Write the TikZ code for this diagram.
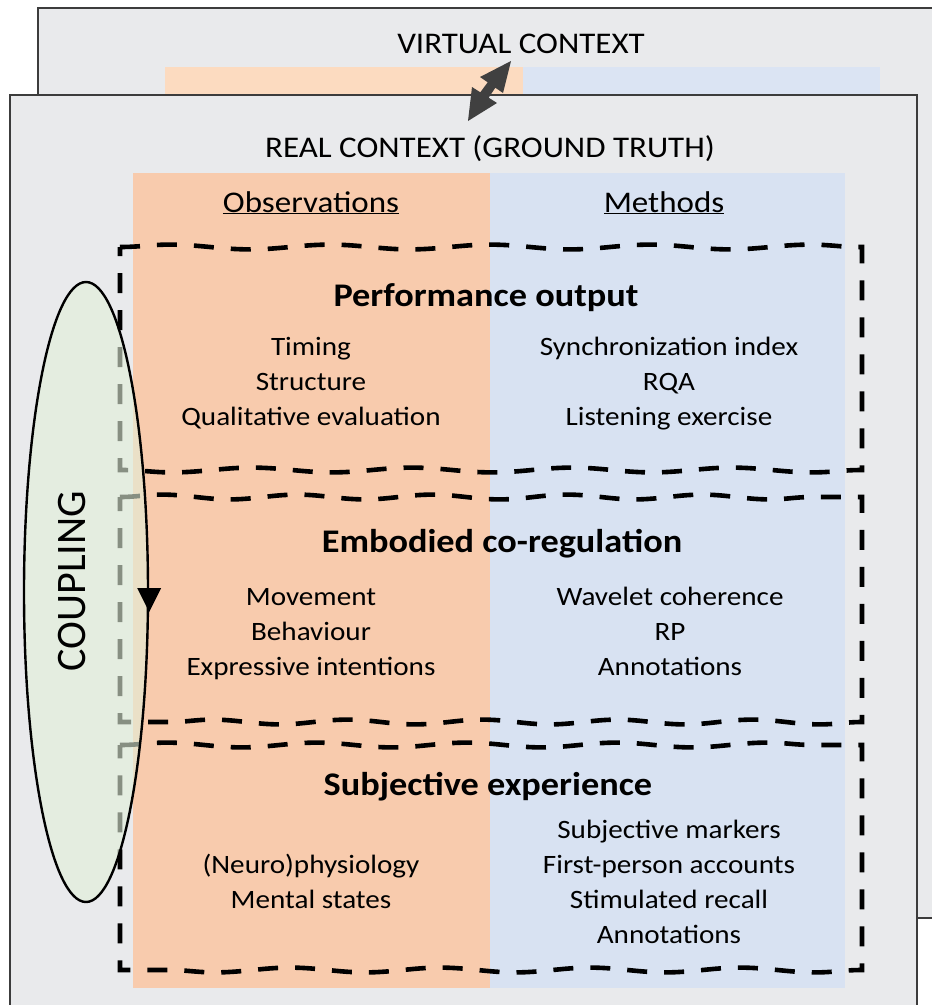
\documentclass[tikz,border=0pt]{standalone}
\usepackage{fontspec}
\setmainfont{Carlito}[FakeStretch=1.1]
\newfontfamily\plainfont{Carlito}
\usetikzlibrary{decorations.pathmorphing,shapes.geometric}

\definecolor{panelgray}{RGB}{233,234,236}
\definecolor{panelline}{RGB}{60,60,60}
\definecolor{obsback}{RGB}{252,219,192}
\definecolor{methback}{RGB}{219,228,243}
\definecolor{obsfront}{RGB}{248,203,173}
\definecolor{methfront}{RGB}{216,226,242}
\definecolor{couplefill}{RGB}{226,239,217}
\definecolor{arrowgray}{RGB}{64,64,64}

\tikzset{
  panel/.style={fill=panelgray, draw=panelline, line width=1.4pt},
  title/.style={font=\fontsize{30}{36}\selectfont, anchor=base, inner sep=0pt},
  colhead/.style={font=\fontsize{30}{36}\selectfont, anchor=base, inner sep=0pt},
  layerhead/.style={font=\fontsize{33}{39}\selectfont\bfseries, anchor=base, inner sep=0pt},
  item/.style={font=\fontsize{26.5}{35}\selectfont, anchor=base, inner sep=0pt},
  layerbox/.style={draw=black, line width=4.6pt, dash pattern=on 20pt off 17pt,
    decoration={snake, amplitude=2.4pt, segment length=#1}},
  layerbox/.default=150pt,
  couplingring/.style={ellipse, draw=black, line width=2.4pt, inner sep=0pt,
    minimum width=124pt, minimum height=620pt}
}

\begin{document}
\begin{tikzpicture}[x=1pt,y=-1pt]
  \useasboundingbox (0,0) rectangle (932,1005);
  \clip (0,0) rectangle (932,1005);
  \fill[white] (0,0) rectangle (932,1005);

  % virtual context (back panel)
  \draw[panel] (38,8) rectangle (960,918);
  \fill[obsback] (165,67) rectangle (523,95);
  \fill[methback] (523,67) rectangle (880,95);
  \node[title] (virtual) at (521,53) {VIRTUAL CONTEXT};

  % real context (front panel)
  \draw[panel] (10,95) rectangle (917,1030);
  \fill[obsfront] (133,173) rectangle (490,988);
  \fill[methfront] (490,173) rectangle (845,988);
  \node[title] (real) at (490,157) {REAL CONTEXT (GROUND TRUTH)};
  \node[colhead] (obs) at (311,212) {\underline{Observations}};
  \node[colhead] (meth) at (664,212) {\underline{Methods}};

  % layer 1
  \node[layerhead] (perf) at (486,306) {Performance output};
  \node[item] (timing) at (311,355) {Timing};
  \node[item] (structure) at (311,390) {Structure};
  \node[item] (qualeval) at (311,425) {Qualitative evaluation};
  \node[item] (syncidx) at (669,355) {Synchronization index};
  \node[item] (rqa) at (669,390) {RQA};
  \node[item] (listening) at (669,425) {Listening exercise};

  % layer 2
  \node[layerhead] (embodied) at (502,552) {Embodied co-regulation};
  \node[item] (movement) at (311,605) {Movement};
  \node[item] (behaviour) at (311,640) {Behaviour};
  \node[item] (expressive) at (311,675) {Expressive intentions};
  \node[item] (wavelet) at (670,605) {Wavelet coherence};
  \node[item] (rp) at (670,640) {RP};
  \node[item] (annotA) at (670,675) {Annotations};

  % layer 3
  \node[layerhead] (subjective) at (488,795) {Subjective experience};
  \node[item] (physio) at (311,873) {(Neuro)physiology};
  \node[item] (mental) at (311,908) {Mental states};
  \node[item] (markers) at (669,838) {Subjective markers};
  \node[item] (firstperson) at (669,873) {First-person accounts};
  \node[item] (recall) at (669,908) {Stimulated recall};
  \node[item] (annotB) at (669,943) {Annotations};

  % dashed layer frames
  \draw[layerbox=160pt] (120,247) decorate{-- (862,247)} -- (862,470)
    decorate{-- (120,470)} -- cycle;
  \draw[layerbox=135pt] (120,497) decorate{-- (862,497)} -- (862,722)
    decorate{-- (120,722)} -- cycle;
  \draw[layerbox=150pt] (120,745) decorate{-- (862,745)} -- (862,970)
    decorate{-- (120,970)} -- cycle;

  % link between the two contexts
  \fill[arrowgray] (511,61) -- (503,93) -- (495.3,87.7) -- (488.7,97.7)
    -- (497,103) -- (468,121) -- (472,87) -- (480.3,92.3) -- (487.7,82.3)
    -- (480,77) -- cycle;

  % coupling loop
  \node[couplingring, fill=couplefill, fill opacity=0.6] (coupling) at (86,592) {};
  \node[font=\plainfont\fontsize{42}{48}\selectfont, rotate=90, inner sep=0pt]
    (couplinglabel) at (72,581) {COUPLING};
  \fill[black] ([shift={(-12,-4)}]coupling.east) -- ([shift={(12,-4)}]coupling.east)
    -- ([shift={(0,20)}]coupling.east) -- cycle;
\end{tikzpicture}
\end{document}
